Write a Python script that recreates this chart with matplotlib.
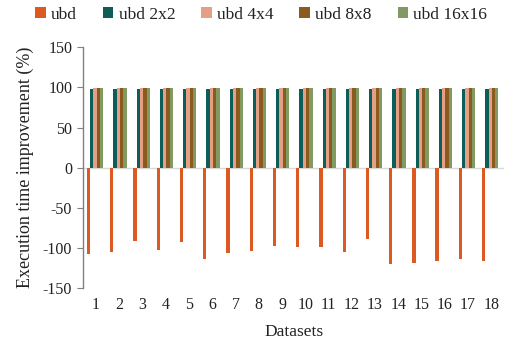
import matplotlib
matplotlib.use("Agg")
import matplotlib.pyplot as plt
import numpy as np

plt.rcParams['font.family'] = ['Liberation Serif', 'DejaVu Serif']
plt.rcParams['axes.unicode_minus'] = False

datasets = [str(i) for i in range(1, 19)]
series_names = ["ubd", "ubd 2x2", "ubd 4x4", "ubd 8x8", "ubd 16x16"]
ubd = [-107, -104.5, -91, -102, -92, -113, -106.5, -104, -97, -99, -99, -105, -89, -119.5, -118, -116.5, -113, -115.5]
ubd_2x2 = [97.5] * 18
ubd_4x4 = [99] * 18
ubd_8x8 = [99] * 18
ubd_16x16 = [99.5] * 18
colors = ["#DC5A22", "#0D5E58", "#E4A085", "#8A5A1E", "#809A62"]

series = [ubd, ubd_2x2, ubd_4x4, ubd_8x8, ubd_16x16]

fig = plt.figure(figsize=(5.07, 3.42), dpi=100)
ax = fig.add_axes([83.3/507, 1-288.3/342, (504-83.3)/507, (288.3-47.3)/342])

x = np.arange(1, 19)
w = 0.142
for i, (vals, name, c) in enumerate(zip(series, series_names, colors)):
    ax.bar(x + (i - 2.3) * w, vals, width=w, color=c, label=name, linewidth=0)

ax.axhline(0, color="#d9d9d9", lw=1.0, zorder=0)
ax.set_ylim(-150, 150)
ax.set_yticks([-150, -100, -50, 0, 50, 100, 150])
ax.set_xlim(0.45, 18.55)
ax.set_xticks(x)
ax.set_xticklabels(datasets)
for s in ["top", "right", "bottom"]:
    ax.spines[s].set_visible(False)
ax.spines["left"].set_color("#808080")
ax.spines["left"].set_linewidth(1.0)
ax.tick_params(axis="y", direction="out", length=4, color="#808080", labelsize=11.5, pad=4, labelcolor="#222222")
ax.tick_params(axis="x", length=0, labelsize=11.5, pad=6, labelcolor="#222222")
ax.set_xlabel("Datasets", fontsize=12.5, color="#222222", labelpad=8)
ax.set_ylabel("Execution time improvement (%)", fontsize=13, color="#222222", labelpad=6)

leg = fig.legend(loc="center", bbox_to_anchor=(0.515, 1 - 15/342), ncol=5, frameon=False,
                 fontsize=12.5, handlelength=0.6, handleheight=0.6, handletextpad=0.3,
                 columnspacing=1.5, labelcolor="#222222")

fig.savefig("out.png", dpi=100)
